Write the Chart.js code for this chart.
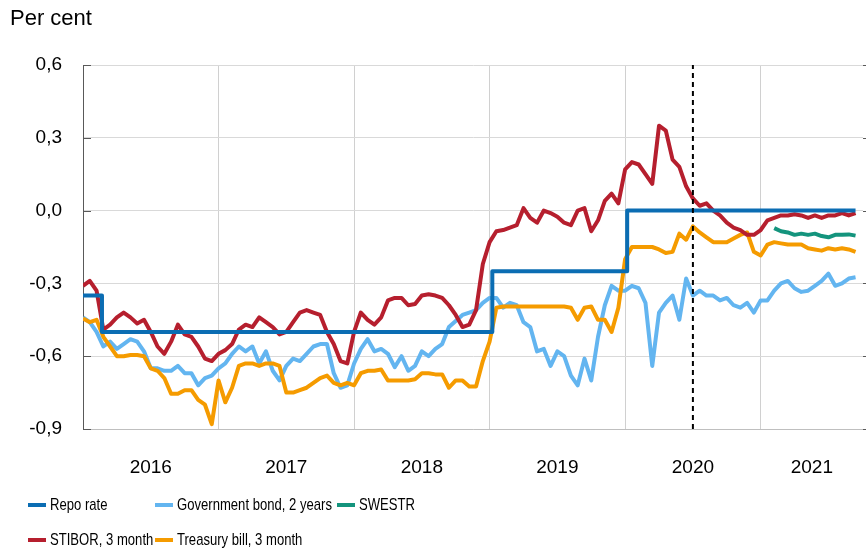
<!DOCTYPE html>
<html lang="en">
<head>
<meta charset="UTF-8">
<title>Interest rates</title>
<script src="https://cdn.jsdelivr.net/npm/chart.js"></script>
<style>
    body { margin: 0; background: #fff; }
    .wrap { position: relative; width: 866px; height: 554px; }
    canvas { position: absolute; left: 0; top: 0; }
    .unit {
        position: absolute; left: 10px; top: 5px;
        font: 22px "Liberation Sans", Arial, sans-serif; line-height: 26px; color: #000;
    }
    .legend {
        position: absolute; left: 28px; top: 487px;
        display: grid; grid-template-columns: 127px 182px 120px;
        font: 17px "Liberation Sans", Arial, sans-serif; color: #000;
    }
    .legend div { display: flex; align-items: center; height: 35px; white-space: nowrap; }
    .legend .mark { display: inline-block; width: 18px; height: 4px; margin-right: 4px; flex: none; }
    /* the original legend text is set narrow */
    .legend .txt { display: inline-block; transform: scaleX(0.77); transform-origin: left center; }
</style>
</head>
<body>

<div class="wrap">
    <canvas id="chart" width="866" height="554"></canvas>
    <div class="unit">Per cent</div>
    <div class="legend" id="legend"></div>
</div>

<script>
// values sampled every 1/20 year from start of 2016
const stibor = [
    -0.31, -0.29, -0.33, -0.49, -0.47, -0.44, -0.42, -0.44, -0.465, -0.45,
    -0.50, -0.56, -0.59, -0.54, -0.47, -0.51, -0.52, -0.56, -0.61, -0.62,
    -0.59, -0.575, -0.55, -0.49, -0.47, -0.48, -0.44, -0.46, -0.48, -0.51,
    -0.50, -0.46, -0.42, -0.41, -0.42, -0.43, -0.50, -0.55, -0.62, -0.63,
    -0.50, -0.42, -0.45, -0.47, -0.44, -0.37, -0.36, -0.36, -0.39, -0.385,
    -0.35, -0.345, -0.35, -0.36, -0.39, -0.43, -0.48, -0.47, -0.41, -0.22,
    -0.13, -0.085, -0.08, -0.07, -0.06, 0.01, -0.03, -0.05, 0.0, -0.01,
    -0.025, -0.05, -0.06, 0.0, 0.01, -0.085, -0.04, 0.04, 0.07, 0.03,
    0.17, 0.20, 0.19, 0.15, 0.11, 0.35, 0.33, 0.21, 0.18, 0.10,
    0.05, 0.02, 0.03, 0.0, -0.02, -0.05, -0.07, -0.08, -0.10, -0.10,
    -0.08, -0.04, -0.03, -0.02, -0.02, -0.015, -0.02, -0.03, -0.02, -0.03,
    -0.02, -0.02, -0.01, -0.02, -0.01
];
const govBond = [
    -0.44, -0.46, -0.50, -0.56, -0.54, -0.57, -0.55, -0.53, -0.54, -0.58,
    -0.65, -0.65, -0.66, -0.66, -0.64, -0.67, -0.67, -0.72, -0.69, -0.68,
    -0.65, -0.63, -0.59, -0.56, -0.58, -0.56, -0.63, -0.58, -0.66, -0.70,
    -0.64, -0.61, -0.62, -0.59, -0.56, -0.55, -0.55, -0.67, -0.73, -0.72,
    -0.63, -0.57, -0.53, -0.58, -0.57, -0.59, -0.645, -0.60, -0.66, -0.64,
    -0.58, -0.60, -0.57, -0.55, -0.48, -0.455, -0.43, -0.42, -0.41, -0.38,
    -0.36, -0.36, -0.40, -0.38, -0.39, -0.46, -0.48, -0.58, -0.57, -0.64,
    -0.58, -0.60, -0.68, -0.72, -0.61, -0.70, -0.52, -0.39, -0.31, -0.33,
    -0.33, -0.31, -0.32, -0.38, -0.64, -0.42, -0.38, -0.35, -0.45, -0.28,
    -0.35, -0.33, -0.35, -0.35, -0.37, -0.36, -0.39, -0.40, -0.38, -0.42,
    -0.37, -0.37, -0.33, -0.30, -0.29, -0.32, -0.335, -0.33, -0.31, -0.29,
    -0.26, -0.31, -0.30, -0.28, -0.275
];
const tBill = [
    -0.445, -0.46, -0.45, -0.52, -0.56, -0.60, -0.60, -0.595, -0.595, -0.60,
    -0.65, -0.66, -0.69, -0.755, -0.755, -0.74, -0.74, -0.78, -0.80, -0.88,
    -0.70, -0.79, -0.73, -0.64, -0.63, -0.63, -0.64, -0.63, -0.63, -0.64,
    -0.75, -0.75, -0.74, -0.73, -0.71, -0.69, -0.68, -0.71, -0.72, -0.71,
    -0.72, -0.67, -0.66, -0.66, -0.655, -0.70, -0.70, -0.70, -0.70, -0.695,
    -0.67, -0.67, -0.675, -0.675, -0.73, -0.70, -0.70, -0.725, -0.725, -0.62,
    -0.54, -0.40, -0.395, -0.395, -0.395, -0.395, -0.395, -0.395, -0.395, -0.395,
    -0.395, -0.395, -0.40, -0.45, -0.40, -0.395, -0.45, -0.45, -0.50, -0.40,
    -0.20, -0.15, -0.15, -0.15, -0.15, -0.16, -0.175, -0.17, -0.095, -0.12,
    -0.065, -0.09, -0.11, -0.13, -0.13, -0.13, -0.115, -0.10, -0.09, -0.17,
    -0.185, -0.14, -0.13, -0.135, -0.14, -0.14, -0.14, -0.155, -0.16, -0.165,
    -0.155, -0.16, -0.155, -0.16, -0.17
];
// SWESTR starts at sample 102
const swestrStart = 102;
const swestr = [-0.072, -0.085, -0.09, -0.10, -0.095, -0.10, -0.095, -0.105, -0.11, -0.10, -0.10, -0.098, -0.103];

const repoDates = [2016.0, 2016.14, 2019.02, 2020.015, 2021.70];
const repoValues = [-0.35, -0.50, -0.25, 0.0, 0.0];

const markerDate = 2020.5;   // dashed vertical line
const years = [2016, 2017, 2018, 2019, 2020, 2021];
const yTicks = [-0.9, -0.6, -0.3, 0, 0.3, 0.6];
const xMin = 2016, xMax = 2021.755;

const names = ['Repo rate', 'Government bond, 2 years', 'SWESTR', 'STIBOR, 3 month', 'Treasury bill, 3 month'];
const colors = ['#0b6db3', '#63b5f0', '#14947d', '#b61f2e', '#f59b00'];

const dates = stibor.map((_, i) => 2016 + i / 20);
const pts = (vals, off = 0) => vals.map((v, i) => ({ x: dates[i + off], y: v }));

function line(label, color, data, extra) {
    return Object.assign({
        label: label, data: data, borderColor: color, backgroundColor: color,
        borderWidth: 4, pointRadius: 0, tension: 0, borderJoinStyle: 'round', fill: false
    }, extra || {});
}

const tickMarks = {
    id: 'tickMarks',
    beforeDatasetsDraw(chart) {
        const { ctx, chartArea, scales } = chart;
        ctx.save();
        ctx.strokeStyle = '#595959';
        ctx.lineWidth = 1;
        scales.y.ticks.forEach(t => {
            const py = Math.round(scales.y.getPixelForValue(t.value)) + 0.5;
            ctx.beginPath();
            ctx.moveTo(chartArea.left, py); ctx.lineTo(chartArea.left + 8, py);
            ctx.moveTo(chartArea.right, py); ctx.lineTo(chartArea.right + 4, py);
            ctx.stroke();
        });
        ctx.restore();
    }
};

const chart = new Chart(document.getElementById('chart'), {
    type: 'line',
    data: {
        datasets: [
            line('marker', '#000', [{ x: markerDate, y: yTicks[0] }, { x: markerDate, y: yTicks[yTicks.length - 1] }],
                 { borderWidth: 2, borderDash: [5, 4], order: -1 }),
            line(names[0], colors[0], repoDates.map((d, i) => ({ x: d, y: repoValues[i] })), { stepped: true, borderWidth: 4 }),
            line(names[3], colors[3], pts(stibor)),
            line(names[2], colors[2], pts(swestr, swestrStart)),
            line(names[4], colors[4], pts(tBill)),
            line(names[1], colors[1], pts(govBond))
        ]
    },
    options: {
        responsive: false,
        animation: false,
        layout: { padding: { top: 65, right: 3, bottom: 65, left: 0 } },
        plugins: { legend: { display: false }, tooltip: { enabled: false } },
        scales: {
            x: {
                type: 'linear', min: xMin, max: xMax,
                afterBuildTicks: axis => {
                    const t = [];
                    years.forEach(y => {
                        t.push({ value: y });
                        t.push({ value: (y + Math.min(y + 1, xMax)) / 2, mid: true });
                    });
                    axis.ticks = t;
                },
                afterFit: axis => { axis.height = 60; },
                ticks: {
                    autoSkip: false, maxRotation: 0, padding: 27, color: '#000',
                    font: { family: '"Liberation Sans", Arial, sans-serif', size: 19 },
                    callback: (v, i, ticks) => ticks[i].mid ? String(Math.floor(v)) : ''
                },
                grid: {
                    drawTicks: false,
                    color: ctx => (ctx.tick && !ctx.tick.mid) ? '#d0d0d0' : 'rgba(0,0,0,0)'
                },
                border: { color: '#bfbfbf' }
            },
            y: {
                min: yTicks[0], max: yTicks[yTicks.length - 1],
                afterBuildTicks: axis => { axis.ticks = yTicks.map(v => ({ value: v })); },
                afterFit: axis => { axis.width = 83; },
                ticks: {
                    padding: 21, color: '#000',
                    font: { family: '"Liberation Sans", Arial, sans-serif', size: 19 },
                    callback: v => v.toFixed(1).replace('.', ',')
                },
                grid: { drawTicks: false, color: '#d9d9d9' },
                border: { color: '#595959' }
            }
        }
    },
    plugins: [tickMarks]
});

// legend, row by row like the original
const legend = document.getElementById('legend');
names.forEach((n, i) => {
    const item = document.createElement('div');
    item.innerHTML = '<span class="mark" style="background:' + colors[i] + '"></span><span class="txt">' + n + '</span>';
    legend.appendChild(item);
});
</script>

</body>
</html>
